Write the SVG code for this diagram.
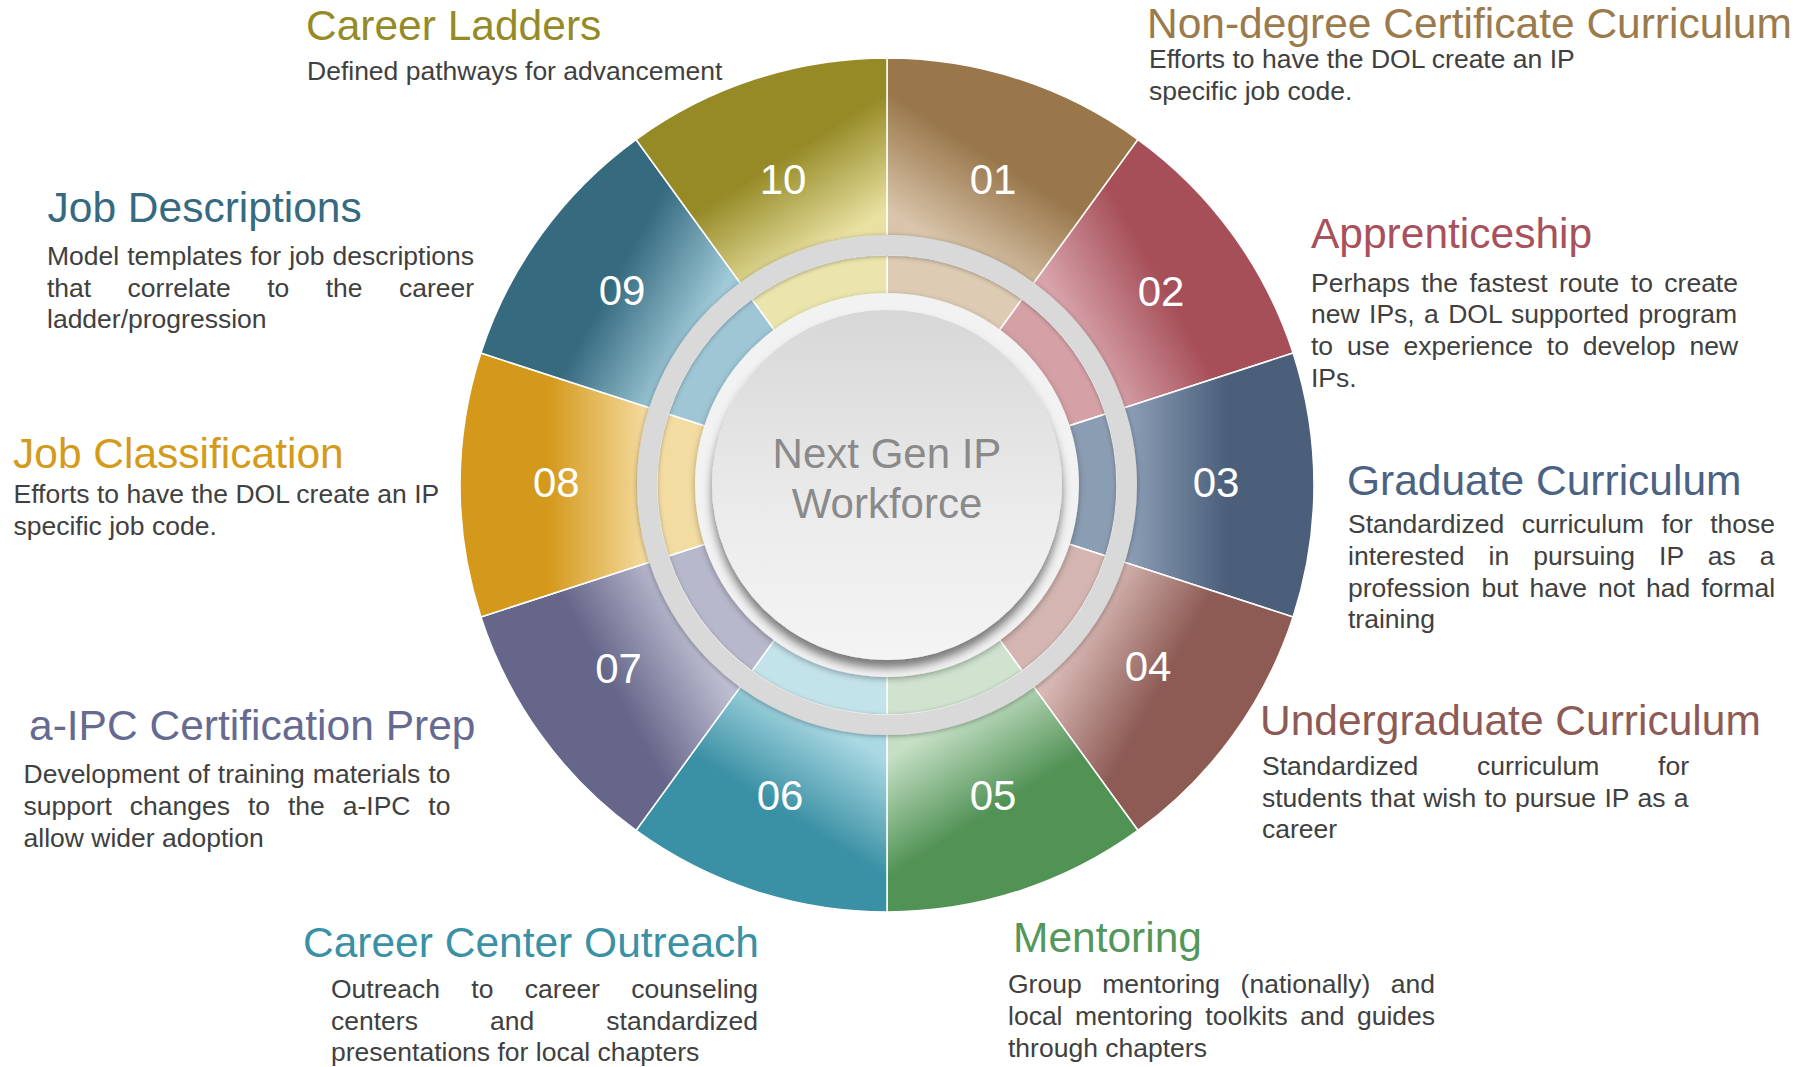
<svg xmlns="http://www.w3.org/2000/svg" width="1806" height="1067" viewBox="0 0 1806 1067">
<style>
.seg{stroke:#ffffff;stroke-width:1.5}
.band{stroke:#ffffff;stroke-width:1.5}
.num{font-family:"Liberation Sans",Arial,sans-serif;font-size:42px;fill:#ffffff;text-anchor:middle}
.title{font-family:"Liberation Sans",Arial,sans-serif;font-size:42.5px}
.desc{font-family:"Liberation Sans",Arial,sans-serif;font-size:26.5px;fill:#404040}
.center{font-family:"Liberation Sans",Arial,sans-serif;font-size:42px;fill:#8a8a8a;text-anchor:middle}
</style>
<defs>
<linearGradient id="g01" gradientUnits="userSpaceOnUse" x1="1011.3" y1="289.1" x2="1064.9" y2="204.7"><stop offset="0" stop-color="#d9c5ab"/><stop offset="1" stop-color="#99774b"/></linearGradient>
<linearGradient id="g02" gradientUnits="userSpaceOnUse" x1="1095.6" y1="370.3" x2="1183.2" y2="322.2"><stop offset="0" stop-color="#d8a3aa"/><stop offset="1" stop-color="#a64f59"/></linearGradient>
<linearGradient id="g03" gradientUnits="userSpaceOnUse" x1="1127" y1="485" x2="1227" y2="485"><stop offset="0" stop-color="#8d9fb6"/><stop offset="1" stop-color="#4b5f7b"/></linearGradient>
<linearGradient id="g04" gradientUnits="userSpaceOnUse" x1="1095.6" y1="599.7" x2="1183.2" y2="647.8"><stop offset="0" stop-color="#d7b8b4"/><stop offset="1" stop-color="#8d5a54"/></linearGradient>
<linearGradient id="g05" gradientUnits="userSpaceOnUse" x1="1011.3" y1="680.9" x2="1064.9" y2="765.3"><stop offset="0" stop-color="#c4dfc4"/><stop offset="1" stop-color="#519255"/></linearGradient>
<linearGradient id="g06" gradientUnits="userSpaceOnUse" x1="762.7" y1="680.9" x2="709.1" y2="765.3"><stop offset="0" stop-color="#aad9e3"/><stop offset="1" stop-color="#3a90a4"/></linearGradient>
<linearGradient id="g07" gradientUnits="userSpaceOnUse" x1="678.4" y1="599.7" x2="590.8" y2="647.8"><stop offset="0" stop-color="#bdbdd1"/><stop offset="1" stop-color="#656689"/></linearGradient>
<linearGradient id="g08" gradientUnits="userSpaceOnUse" x1="647" y1="485" x2="547" y2="485"><stop offset="0" stop-color="#f4dba0"/><stop offset="1" stop-color="#d4981a"/></linearGradient>
<linearGradient id="g09" gradientUnits="userSpaceOnUse" x1="678.4" y1="370.3" x2="590.8" y2="322.2"><stop offset="0" stop-color="#a0cad8"/><stop offset="1" stop-color="#356a7f"/></linearGradient>
<linearGradient id="g10" gradientUnits="userSpaceOnUse" x1="762.7" y1="289.1" x2="709.1" y2="204.7"><stop offset="0" stop-color="#e9e1a2"/><stop offset="1" stop-color="#958a26"/></linearGradient>
<linearGradient id="diskGrad" x1="0" y1="0" x2="0" y2="1"><stop offset="0" stop-color="#d7d7d7"/><stop offset="0.6" stop-color="#ececec"/><stop offset="1" stop-color="#f4f4f4"/></linearGradient>
<filter id="ringShadow" x="-20%" y="-20%" width="140%" height="140%"><feDropShadow dx="0" dy="1" stdDeviation="2.5" flood-color="#000" flood-opacity="0.35"/></filter>
<filter id="lightShadow" x="-20%" y="-20%" width="140%" height="140%"><feDropShadow dx="0" dy="2" stdDeviation="3" flood-color="#000" flood-opacity="0.3"/></filter>
<filter id="diskShadow" x="-20%" y="-20%" width="140%" height="140%"><feDropShadow dx="0" dy="8" stdDeviation="5" flood-color="#000" flood-opacity="0.5"/></filter>
</defs>
<rect width="1806" height="1067" fill="#ffffff"/>

<g id="node-01">
<path class="seg" fill="url(#g01)" d="M887 485 L887 58 A427 427 0 0 1 1137.98 139.55 Z"/>
<path class="band" fill="#decbb3" d="M887 485 L887 255 A230 230 0 0 1 1022.19 298.93 Z"/>
<text class="num" x="993" y="193.7">01</text>
</g>
<g id="node-02">
<path class="seg" fill="url(#g02)" d="M887 485 L1137.98 139.55 A427 427 0 0 1 1293.10 353.05 Z"/>
<path class="band" fill="#d5a1a6" d="M887 485 L1022.19 298.93 A230 230 0 0 1 1105.74 413.93 Z"/>
<text class="num" x="1161" y="305.5">02</text>
</g>
<g id="node-03">
<path class="seg" fill="url(#g03)" d="M887 485 L1293.10 353.05 A427 427 0 0 1 1293.10 616.95 Z"/>
<path class="band" fill="#8b9db3" d="M887 485 L1105.74 413.93 A230 230 0 0 1 1105.74 556.07 Z"/>
<text class="num" x="1216" y="496.5">03</text>
</g>
<g id="node-04">
<path class="seg" fill="url(#g04)" d="M887 485 L1293.10 616.95 A427 427 0 0 1 1137.98 830.45 Z"/>
<path class="band" fill="#d4b5b1" d="M887 485 L1105.74 556.07 A230 230 0 0 1 1022.19 671.07 Z"/>
<text class="num" x="1148" y="680.7">04</text>
</g>
<g id="node-05">
<path class="seg" fill="url(#g05)" d="M887 485 L1137.98 830.45 A427 427 0 0 1 887 912 Z"/>
<path class="band" fill="#cfe3cf" d="M887 485 L1022.19 671.07 A230 230 0 0 1 887 715 Z"/>
<text class="num" x="993" y="809.7">05</text>
</g>
<g id="node-06">
<path class="seg" fill="url(#g06)" d="M887 485 L887 912 A427 427 0 0 1 636.02 830.45 Z"/>
<path class="band" fill="#c3e3ea" d="M887 485 L887 715 A230 230 0 0 1 751.81 671.07 Z"/>
<text class="num" x="780" y="809.7">06</text>
</g>
<g id="node-07">
<path class="seg" fill="url(#g07)" d="M887 485 L636.02 830.45 A427 427 0 0 1 480.90 616.95 Z"/>
<path class="band" fill="#b8b8cc" d="M887 485 L751.81 671.07 A230 230 0 0 1 668.26 556.07 Z"/>
<text class="num" x="618.5" y="683">07</text>
</g>
<g id="node-08">
<path class="seg" fill="url(#g08)" d="M887 485 L480.90 616.95 A427 427 0 0 1 480.90 353.05 Z"/>
<path class="band" fill="#f3dca2" d="M887 485 L668.26 556.07 A230 230 0 0 1 668.26 413.93 Z"/>
<text class="num" x="556.3" y="496.5">08</text>
</g>
<g id="node-09">
<path class="seg" fill="url(#g09)" d="M887 485 L480.90 353.05 A427 427 0 0 1 636.02 139.55 Z"/>
<path class="band" fill="#9ec6d4" d="M887 485 L668.26 413.93 A230 230 0 0 1 751.81 298.93 Z"/>
<text class="num" x="622" y="305.3">09</text>
</g>
<g id="node-10">
<path class="seg" fill="url(#g10)" d="M887 485 L636.02 139.55 A427 427 0 0 1 887 58 Z"/>
<path class="band" fill="#ebe5ad" d="M887 485 L751.81 298.93 A230 230 0 0 1 887 255 Z"/>
<text class="num" x="783" y="193.5">10</text>
</g>

<g id="hub">
<circle cx="887" cy="485" r="240" fill="none" stroke="#d9d9d9" stroke-width="20" filter="url(#ringShadow)"/>
<circle cx="887" cy="485" r="192" fill="#f2f2f2" filter="url(#lightShadow)"/>
<circle cx="887" cy="485" r="175" fill="url(#diskGrad)" filter="url(#diskShadow)"/>
<text class="center" x="887" y="468.3">Next Gen IP</text>
<text class="center" x="887" y="518.3">Workforce</text>
</g>

<g id="label-01">
<text class="title" fill="#9b7a4c" x="1147" y="38.3">Non-degree Certificate Curriculum</text>
<text class="desc" x="1149" y="68.3">Efforts to have the DOL create an IP</text>
<text class="desc" x="1149" y="100">specific job code.</text>
</g>
<g id="label-02">
<text class="title" fill="#a8505b" x="1311" y="248">Apprenticeship</text>
<text class="desc" x="1311" y="291.7" word-spacing="4.08">Perhaps the fastest route to create</text>
<text class="desc" x="1311" y="323.4" word-spacing="2.04">new IPs, a DOL supported program</text>
<text class="desc" x="1311" y="355.1" word-spacing="6.44">to use experience to develop new</text>
<text class="desc" x="1311" y="386.8">IPs.</text>
</g>
<g id="label-03">
<text class="title" fill="#4b6282" x="1347" y="495">Graduate Curriculum</text>
<text class="desc" x="1348" y="533.3" word-spacing="10.27">Standardized curriculum for those</text>
<text class="desc" x="1348" y="565" word-spacing="16.76">interested in pursuing IP as a</text>
<text class="desc" x="1348" y="596.7" word-spacing="3.8">profession but have not had formal</text>
<text class="desc" x="1348" y="628.4">training</text>
</g>
<g id="label-04">
<text class="title" fill="#8e5a55" x="1260" y="735">Undergraduate Curriculum</text>
<text class="desc" x="1262" y="775" word-spacing="51.5">Standardized curriculum for</text>
<text class="desc" x="1262" y="806.7" word-spacing="1.03">students that wish to pursue IP as a</text>
<text class="desc" x="1262" y="838.4">career</text>
</g>
<g id="label-05">
<text class="title" fill="#54975a" x="1013" y="951.7">Mentoring</text>
<text class="desc" x="1008" y="993.3" word-spacing="13.2">Group mentoring (nationally) and</text>
<text class="desc" x="1008" y="1025" word-spacing="5.13">local mentoring toolkits and guides</text>
<text class="desc" x="1008" y="1056.7">through chapters</text>
</g>
<g id="label-06">
<text class="title" fill="#3a91a5" x="303" y="957.3">Career Center Outreach</text>
<text class="desc" x="331" y="998.3" word-spacing="24">Outreach to career counseling</text>
<text class="desc" x="331" y="1029.5" word-spacing="64.75">centers and standardized</text>
<text class="desc" x="331" y="1060.7">presentations for local chapters</text>
</g>
<g id="label-07">
<text class="title" fill="#666a90" x="29" y="740">a-IPC Certification Prep</text>
<text class="desc" x="23.5" y="783" word-spacing="0.7">Development of training materials to</text>
<text class="desc" x="23.5" y="814.8" word-spacing="10.56">support changes to the a-IPC to</text>
<text class="desc" x="23.5" y="846.6">allow wider adoption</text>
</g>
<g id="label-08">
<text class="title" fill="#d49a1a" x="13" y="468.3">Job Classification</text>
<text class="desc" x="13.5" y="503.3">Efforts to have the DOL create an IP</text>
<text class="desc" x="13.5" y="535">specific job code.</text>
</g>
<g id="label-09">
<text class="title" fill="#366a80" x="47.5" y="221.7">Job Descriptions</text>
<text class="desc" x="47" y="265" word-spacing="0.7">Model templates for job descriptions</text>
<text class="desc" x="47" y="296.7" word-spacing="29.05">that correlate to the career</text>
<text class="desc" x="47" y="328.4">ladder/progression</text>
</g>
<g id="label-10">
<text class="title" fill="#958b26" x="306" y="39.5">Career Ladders</text>
<text class="desc" x="307" y="80">Defined pathways for advancement</text>
</g>
</svg>
